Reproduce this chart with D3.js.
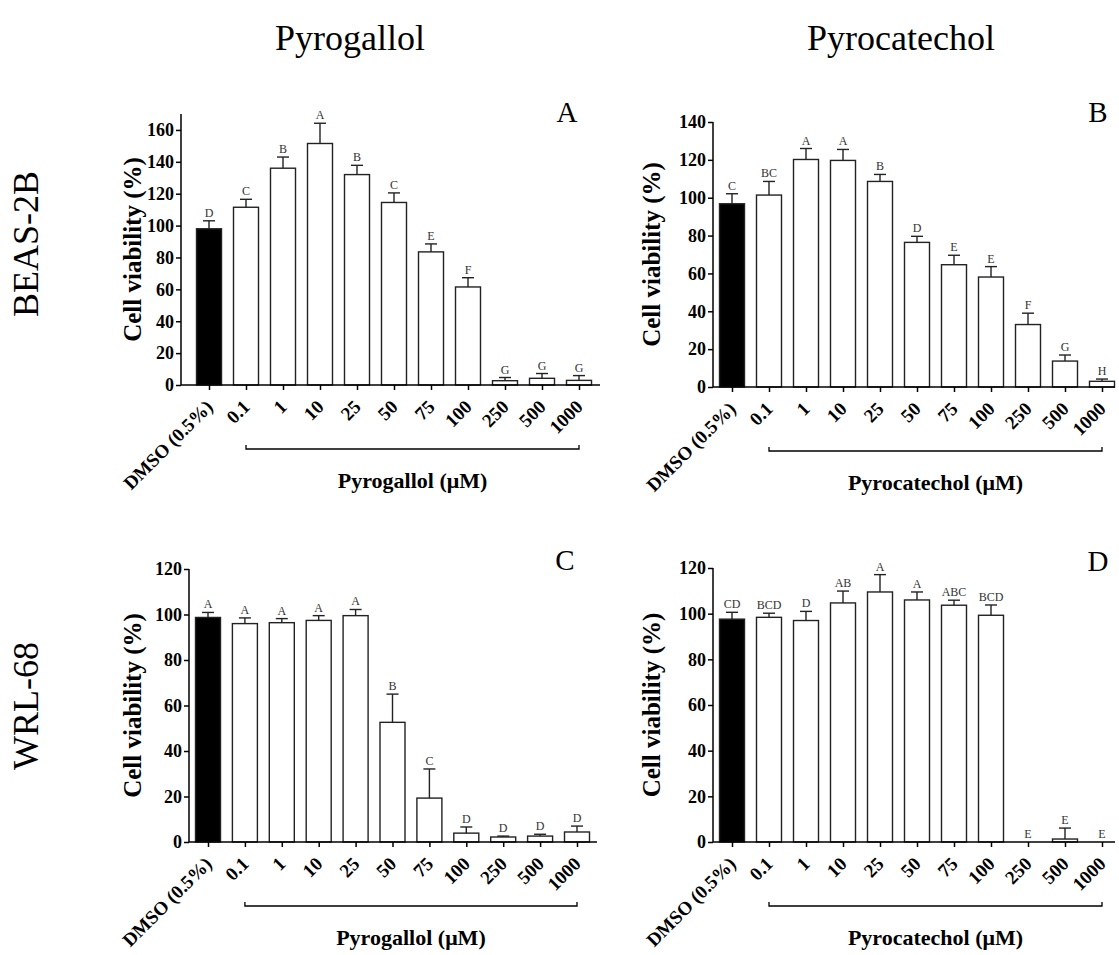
<!DOCTYPE html>
<html>
<head>
<meta charset="utf-8">
<script src="https://cdn.jsdelivr.net/npm/d3@7"></script>
<style>
  body { margin: 0; background: #fff; }
  svg { display: block; font-family: "Liberation Serif", "Times New Roman", serif; }
</style>
</head>
<body>
<svg id="fig" width="1119" height="955"></svg>
<script>

// doses on the x axis (same for every panel)
var doses = ["DMSO (0.5%)", "0.1", "1", "10", "25", "50", "75", "100", "250", "500", "1000"];

// A: pyrogallol on BEAS-2B
var pgBeasMean = [98, 111.5, 136, 151.5, 132, 114.5, 83.5, 61.5, 2.7, 4.2, 2.9];
var pgBeasSd = [5, 5, 7, 12.7, 5.8, 6, 5, 5.8, 2, 3, 3];
var pgBeasGroup = ["D", "C", "B", "A", "B", "C", "E", "F", "G", "G", "G"];

// B: pyrocatechol on BEAS-2B
var pcBeasMean = [96.8, 101.4, 120.2, 119.7, 108.6, 76.4, 64.6, 58.1, 33, 13.7, 3];
var pcBeasSd = [5.3, 7.2, 5.8, 5.8, 3.7, 3.2, 5, 5.5, 6, 3.2, 1.2];
var pcBeasGroup = ["C", "BC", "A", "A", "B", "D", "E", "E", "F", "G", "H"];

// C: pyrogallol on WRL-68
var pgWrlMean = [98.7, 96, 96.4, 97.4, 99.5, 52.6, 19.3, 3.9, 2.2, 2.6, 4.4];
var pgWrlSd = [2.2, 2.5, 1.8, 2.1, 2.7, 12.4, 12.8, 2.7, 0.4, 0.8, 2.6];
var pgWrlGroup = ["A", "A", "A", "A", "A", "B", "C", "D", "D", "D", "D"];

// D: pyrocatechol on WRL-68
var pcWrlMean = [97.6, 98.4, 97, 104.7, 109.5, 106, 103.7, 99.3, 0, 1.3, 0];
var pcWrlSd = [3, 1.8, 4, 5.2, 7.6, 3.5, 2.2, 4.5, 0, 4.8, 0];
var pcWrlGroup = ["CD", "BCD", "D", "AB", "A", "A", "ABC", "BCD", "E", "E", "E"];

var svg = d3.select("#fig");

var render = function(p) {
  var g = svg.append("g");

  var x = d3.scalePoint().domain(doses).range([p.x0, p.x1]),
      y = d3.scaleLinear().domain([0, p.yMax]).range([p.base, p.top]);

  var barW = 25, capW = 12;

  var rows = doses.map(function(d, i) {
    return {dose: d, mean: p.mean[i], sd: p.sd[i], group: p.group[i], i: i};
  });

  // bars
  g.selectAll(".bar")
    .data(rows.filter(function(d) { return d.mean > 0; }))
    .enter().append("rect")
    .attr("x", function(d) { return x(d.dose) - barW / 2; })
    .attr("y", function(d) { return y(d.mean); })
    .attr("width", barW)
    .attr("height", function(d) { return y(0) - y(d.mean); })
    .attr("fill", function(d) { return d.i === 0 ? "#000" : "#fff"; })
    .attr("stroke", "#222")
    .attr("stroke-width", 1.4);

  // upper error bars
  var err = g.selectAll(".err")
    .data(rows.filter(function(d) { return d.sd > 0; }))
    .enter().append("g");
  err.append("line")
    .attr("x1", function(d) { return x(d.dose); })
    .attr("x2", function(d) { return x(d.dose); })
    .attr("y1", function(d) { return y(d.mean); })
    .attr("y2", function(d) { return y(d.mean + d.sd); })
    .attr("stroke", "#222").attr("stroke-width", 1.4);
  err.append("line")
    .attr("x1", function(d) { return x(d.dose) - capW / 2; })
    .attr("x2", function(d) { return x(d.dose) + capW / 2; })
    .attr("y1", function(d) { return y(d.mean + d.sd); })
    .attr("y2", function(d) { return y(d.mean + d.sd); })
    .attr("stroke", "#222").attr("stroke-width", 1.4);

  // significance letters
  g.selectAll(".grp")
    .data(rows)
    .enter().append("text")
    .attr("x", function(d) { return x(d.dose); })
    .attr("y", function(d) { return y(d.mean + d.sd) - 4; })
    .attr("text-anchor", "middle")
    .style("font-size", "12px")
    .style("fill", "#333")
    .text(function(d) { return d.group; });

  // y axis
  var yAxis = g.append("g")
    .attr("transform", "translate(" + p.ax + ",0)")
    .call(d3.axisLeft(y).tickValues(d3.range(0, p.yMax + 1, 20)).tickSize(5).tickPadding(2).tickFormat(d3.format("d")));
  yAxis.select(".domain").attr("d", "M0," + p.top + "V" + p.base);
  yAxis.selectAll("line, path").attr("stroke", "#000").attr("stroke-width", 1.5);
  yAxis.selectAll("text")
    .style("font-family", "'Liberation Serif', 'Times New Roman', serif")
    .style("font-size", "18px").style("font-weight", "bold").attr("fill", "#000");

  g.append("text")
    .attr("transform", "translate(" + p.ylabX + "," + ((p.top + p.base) / 2) + ") rotate(-90)")
    .attr("text-anchor", "middle")
    .style("font-size", "25px").style("font-weight", "bold")
    .text("Cell viability (%)");

  // x axis
  var xAxis = g.append("g")
    .attr("transform", "translate(0," + p.base + ")")
    .call(d3.axisBottom(x).tickSize(5).tickFormat(""));
  xAxis.select(".domain").attr("d", "M" + p.ax + ",0H" + p.xEnd);
  xAxis.selectAll("line, path").attr("stroke", "#000").attr("stroke-width", 1.5);

  g.selectAll(".xl")
    .data(doses)
    .enter().append("text")
    .attr("transform", function(d) { return "translate(" + (x(d) + 5) + "," + (p.base + 23) + ") rotate(-45)"; })
    .attr("text-anchor", "end")
    .style("font-size", "19px").style("font-weight", "bold")
    .text(function(d) { return d; });

  // bracket over the concentrations
  var bx0 = x(doses[1]), bx1 = x(doses[doses.length - 1]), by = p.base + 64;
  g.append("path")
    .attr("d", "M" + bx0 + "," + (by - 4) + "V" + by + "H" + bx1 + "V" + (by - 4))
    .attr("fill", "none").attr("stroke", "#000").attr("stroke-width", 1.3);

  g.append("text")
    .attr("x", (bx0 + bx1) / 2)
    .attr("y", p.base + 103)
    .attr("text-anchor", "middle")
    .style("font-size", "22px").style("font-weight", "bold")
    .text(p.compound + " (\u03bcM)");

  // panel letter
  g.append("text")
    .attr("x", p.letterX).attr("y", p.letterY)
    .attr("text-anchor", "middle")
    .style("font-size", "29px")
    .text(p.letter);
};

render({mean: pgBeasMean, sd: pgBeasSd, group: pgBeasGroup, compound: "Pyrogallol", letter: "A",
  ax: 181, x0: 209, x1: 579, xEnd: 600, base: 385, top: 114, yMax: 170, ylabX: 141, letterX: 567, letterY: 122});
render({mean: pcBeasMean, sd: pcBeasSd, group: pcBeasGroup, compound: "Pyrocatechol", letter: "B",
  ax: 713, x0: 732, x1: 1102, xEnd: 1115, base: 387, top: 122, yMax: 140, ylabX: 660, letterX: 1098, letterY: 122});
render({mean: pgWrlMean, sd: pgWrlSd, group: pgWrlGroup, compound: "Pyrogallol", letter: "C",
  ax: 189, x0: 208, x1: 577, xEnd: 597, base: 842, top: 569, yMax: 120, ylabX: 141, letterX: 565, letterY: 570});
render({mean: pcWrlMean, sd: pcWrlSd, group: pcWrlGroup, compound: "Pyrocatechol", letter: "D",
  ax: 713, x0: 732, x1: 1102, xEnd: 1115, base: 842, top: 568, yMax: 120, ylabX: 660, letterX: 1098, letterY: 571});

// column and row headings
svg.append("text").attr("x", 350).attr("y", 50).attr("text-anchor", "middle")
  .style("font-size", "36px").text("Pyrogallol");
svg.append("text").attr("x", 901).attr("y", 50).attr("text-anchor", "middle")
  .style("font-size", "36px").text("Pyrocatechol");
svg.append("text").attr("transform", "translate(38,244) rotate(-90)").attr("text-anchor", "middle")
  .style("font-size", "36px").text("BEAS-2B");
svg.append("text").attr("transform", "translate(38,706) rotate(-90)").attr("text-anchor", "middle")
  .style("font-size", "36px").text("WRL-68");

</script>
</body>
</html>
